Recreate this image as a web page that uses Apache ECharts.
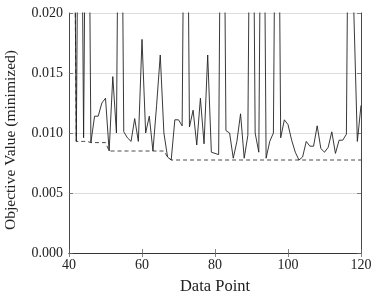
<!DOCTYPE html>
<html>
<head>
<meta charset="utf-8">
<script src="https://cdn.jsdelivr.net/npm/echarts@6/dist/echarts.min.js"></script>
<style>
    html, body { margin: 0; padding: 0; background: #fff; }
    #chart { width: 371px; height: 296px; }
</style>
</head>
<body>
<div id="chart"></div>
<script type="text/javascript">
    // data point index
    var dataPoints = [40, 41, 42, 43, 44, 45, 46, 47, 48, 49,
        50, 51, 52, 53, 54, 55, 56, 57, 58, 59,
        60, 61, 62, 63, 64, 65, 66, 67, 68, 69,
        70, 71, 72, 73, 74, 75, 76, 77, 78, 79,
        80, 81, 82, 83, 84, 85, 86, 87, 88, 89,
        90, 91, 92, 93, 94, 95, 96, 97, 98, 99,
        100, 101, 102, 103, 104, 105, 106, 107, 108, 109,
        110, 111, 112, 113, 114, 115, 116, 117, 118, 119,
        120];
    // objective value per point (spikes go off the top of the chart)
    var objective = [0.05, 0.05, 0.0093, 0.05, 0.0096, 0.05, 0.0092, 0.0114, 0.0114, 0.0125,
        0.0129, 0.0085, 0.0147, 0.0100, 0.05, 0.0101, 0.0096, 0.0093, 0.0112, 0.0093,
        0.0178, 0.0100, 0.0114, 0.0085, 0.0123, 0.0165, 0.0100, 0.0080, 0.00775, 0.0111,
        0.0111, 0.0106, 0.05, 0.0105, 0.0119, 0.0090, 0.0129, 0.0091, 0.0165, 0.0084,
        0.0083, 0.0082, 0.05, 0.0102, 0.0100, 0.0079, 0.0093, 0.0116, 0.0079, 0.0098,
        0.05, 0.0100, 0.0084, 0.05, 0.0079, 0.0093, 0.0100, 0.05, 0.0096, 0.0111,
        0.0107, 0.0094, 0.0084, 0.00775, 0.0080, 0.0093, 0.0089, 0.0089, 0.0106, 0.0087,
        0.0084, 0.0088, 0.0101, 0.0083, 0.0094, 0.0094, 0.0099, 0.05, 0.0205, 0.0093,
        0.0123];
    // best value so far (dashed)
    var bestSoFar = [0.05, 0.05, 0.0093, 0.0093, 0.0093, 0.0093, 0.0092, 0.0092, 0.0092, 0.0092,
        0.0092, 0.0085, 0.0085, 0.0085, 0.0085, 0.0085, 0.0085, 0.0085, 0.0085, 0.0085,
        0.0085, 0.0085, 0.0085, 0.0085, 0.0085, 0.0085, 0.0085, 0.0080, 0.00775, 0.00775,
        0.00775, 0.00775, 0.00775, 0.00775, 0.00775, 0.00775, 0.00775, 0.00775, 0.00775, 0.00775,
        0.00775, 0.00775, 0.00775, 0.00775, 0.00775, 0.00775, 0.00775, 0.00775, 0.00775, 0.00775,
        0.00775, 0.00775, 0.00775, 0.00775, 0.00775, 0.00775, 0.00775, 0.00775, 0.00775, 0.00775,
        0.00775, 0.00775, 0.00775, 0.00775, 0.00775, 0.00775, 0.00775, 0.00775, 0.00775, 0.00775,
        0.00775, 0.00775, 0.00775, 0.00775, 0.00775, 0.00775, 0.00775, 0.00775, 0.00775, 0.00775,
        0.00775];
    var xTicks = [40, 60, 80, 100, 120];
    var yTicks = [0, 0.005, 0.010, 0.015, 0.020];

    var font = 'Liberation Serif';
    var axisColor = '#333';

    function pairs(ys) {
        return dataPoints.map(function (x, i) { return [x, ys[i]]; });
    }

    var myChart = echarts.init(document.getElementById('chart'));
    var option = {
        backgroundColor: '#fff',
        animation: false,
        grid: { left: 69, right: 10, top: 13, bottom: 43, containLabel: false, outerBoundsMode: 'none' },
        xAxis: [
            {
                type: 'value',
                min: xTicks[0],
                max: xTicks[xTicks.length - 1],
                interval: 20,
                name: 'Data Point',
                nameLocation: 'middle',
                nameGap: 25,
                nameTextStyle: { fontFamily: font, fontSize: 16.5, color: '#222' },
                axisLine: { lineStyle: { color: axisColor, width: 0.9 } },
                axisTick: { inside: true, length: 4, lineStyle: { color: '#666', width: 0.8 } },
                axisLabel: { fontFamily: font, fontSize: 14, color: '#222', margin: 5 },
                splitLine: { show: false }
            },
            {
                type: 'value',
                position: 'top',
                min: xTicks[0],
                max: xTicks[xTicks.length - 1],
                interval: 20,
                axisLine: { lineStyle: { color: axisColor, width: 0.9 } },
                axisTick: { inside: true, length: 4, lineStyle: { color: '#666', width: 0.8 } },
                axisLabel: { show: false },
                splitLine: { show: false }
            }
        ],
        yAxis: [
            {
                type: 'value',
                min: yTicks[0],
                max: yTicks[yTicks.length - 1],
                interval: 0.005,
                name: 'Objective Value (minimized)',
                nameLocation: 'middle',
                nameGap: 50,
                nameTextStyle: { fontFamily: font, fontSize: 15.5, color: '#222', padding: [0, 14, 0, 0] },
                axisLine: { show: true, lineStyle: { color: axisColor, width: 0.9 } },
                axisTick: { show: true, inside: true, length: 4, lineStyle: { color: '#666', width: 0.8 } },
                axisLabel: {
                    fontFamily: font, fontSize: 14, color: '#222', margin: 6,
                    formatter: function (v) { return v.toFixed(3); }
                },
                splitLine: { show: true, lineStyle: { color: '#d4d4d4', width: 0.8 } }
            },
            {
                type: 'value',
                position: 'right',
                min: yTicks[0],
                max: yTicks[yTicks.length - 1],
                interval: 0.005,
                axisLine: { show: true, lineStyle: { color: axisColor, width: 0.9 } },
                axisTick: { show: true, inside: true, length: 4, lineStyle: { color: '#666', width: 0.8 } },
                axisLabel: { show: false },
                splitLine: { show: false }
            }
        ],
        series: [
            {
                name: 'best',
                type: 'line',
                data: pairs(bestSoFar),
                showSymbol: false,
                symbol: 'none',
                clip: true,
                lineStyle: { color: '#333', width: 0.9, type: [4, 3] },
                z: 3
            },
            {
                name: 'objective',
                type: 'line',
                data: pairs(objective),
                showSymbol: false,
                symbol: 'none',
                clip: true,
                lineStyle: { color: '#222', width: 0.9 },
                z: 4
            }
        ]
    };
    myChart.setOption(option);
</script>
</body>
</html>
